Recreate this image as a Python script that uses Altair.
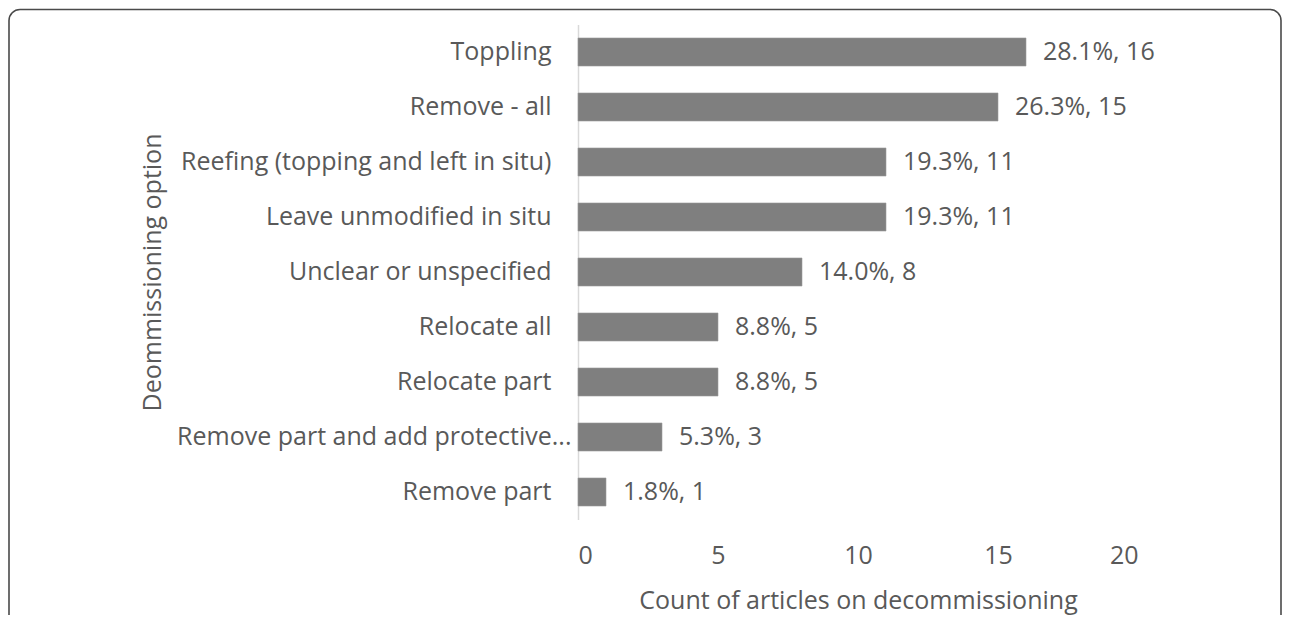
import altair as alt
import pandas as pd

categories = [
    "Toppling",
    "Remove - all",
    "Reefing (topping and left in situ)",
    "Leave unmodified in situ",
    "Unclear or unspecified",
    "Relocate all",
    "Relocate part",
    "Remove part and add protective...",
    "Remove part",
]
counts = [16, 15, 11, 11, 8, 5, 5, 3, 1]
percents = ["28.1%", "26.3%", "19.3%", "19.3%", "14.0%", "8.8%", "8.8%", "5.3%", "1.8%"]

df = pd.DataFrame({
    "option": categories,
    "count": counts,
    "label": [f"{p}, {c}" for p, c in zip(percents, counts)],
})

FONT = "Open Sans"
TXT = "#595959"
FS = 25

y_enc = alt.Y(
    "option:N",
    sort=categories,
    scale=alt.Scale(paddingInner=0.49, paddingOuter=0.245),
    axis=alt.Axis(
        title="Deommissioning option",
        titleX=-426,
        titleY=247.5,
        titleBaseline="middle",
        titleAngle=-90,
        labelPadding={
            "condition": {"test": "indexof(datum.value, '...') > 0", "value": 7},
            "value": 27,
        },
        ticks=False,
        domainColor="#d9d9d9",
        domainWidth=1.5,
        labelLimit=600,
    ),
)
x_enc = alt.X(
    "count:Q",
    scale=alt.Scale(domain=[0, 20]),
    axis=alt.Axis(
        title="Count of articles on decommissioning",
        values=[0, 5, 10, 15, 20],
        domain=False,
        ticks=False,
        grid=False,
        labelPadding=24,
        titleY=80.5,
        titleBaseline="middle",
    ),
)

bars = alt.Chart(df).mark_bar(color="#7f7f7f", stroke="#9a9a9a", strokeWidth=0.6).encode(
    x=x_enc, y=y_enc
)
texts = alt.Chart(df).mark_text(
    align="left", baseline="middle", dx=17, font=FONT, fontSize=FS, color=TXT
).encode(x="count:Q", y=alt.Y("option:N", sort=categories), text="label:N")

frame = alt.Chart(pd.DataFrame({"a": [0]})).mark_rect(
    fill=None, stroke="#4a4a4a", strokeWidth=1.6, cornerRadius=11
).encode(
    x=alt.value(-569), x2=alt.value(703), y=alt.value(-15), y2=alt.value(700)
)

chart = alt.layer(frame, bars, texts).properties(
    width=560,
    height=495,
    autosize=alt.AutoSizeParams(type="none"),
    padding={"left": 570, "top": 16.5, "right": 144, "bottom": 95.5},
    background="white",
).configure_view(stroke=None).configure_axis(
    labelFont=FONT,
    titleFont=FONT,
    labelFontSize=FS,
    titleFontSize=FS,
    labelColor=TXT,
    titleColor=TXT,
    titleFontWeight="normal",
    grid=False,
)

chart.save("out.html", embed_options={"renderer": "svg", "actions": False})
